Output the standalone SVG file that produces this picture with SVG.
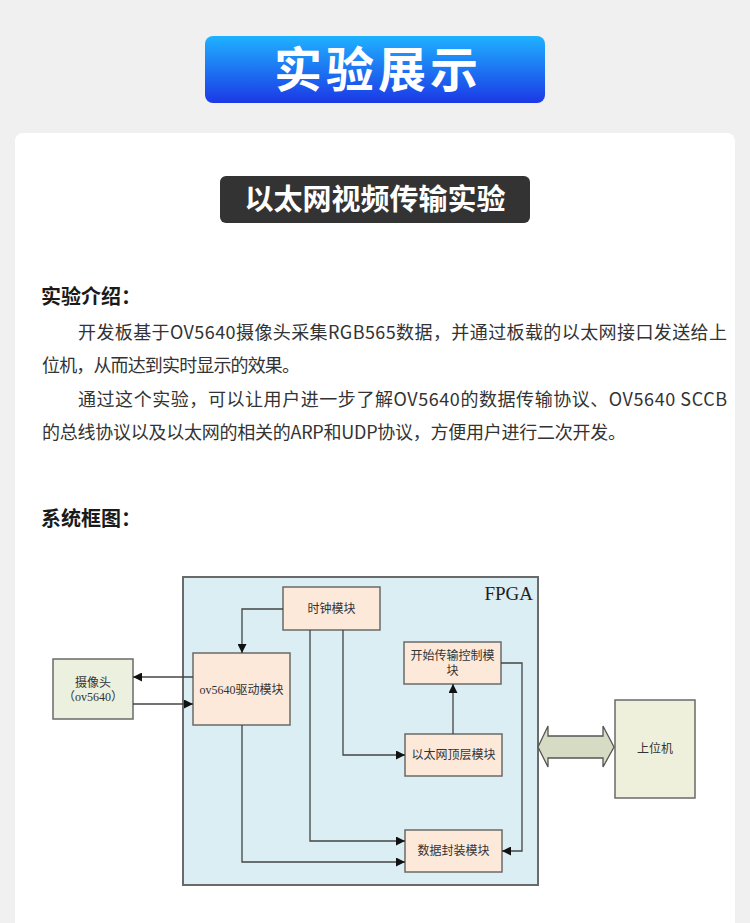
<svg xmlns="http://www.w3.org/2000/svg" width="750" height="923" viewBox="0 0 750 923">
<defs>
<linearGradient id="blue" x1="0" y1="0" x2="0" y2="1">
<stop offset="0" stop-color="#1fb2ff"/>
<stop offset="1" stop-color="#1b38e6"/>
</linearGradient>
<marker id="arr" viewBox="0 0 10 10" refX="10" refY="5" markerWidth="10" markerHeight="9" markerUnits="userSpaceOnUse" orient="auto">
<path d="M0,0 L10,5 L0,10 z" fill="#111"/>
</marker>
<style>
.cjk{font-family:"Noto Sans CJK SC","Noto Sans",sans-serif}
.head{font-family:"Noto Sans CJK SC",sans-serif;font-weight:bold;fill:#1a1a1a;font-size:20px}
.para{font-family:"Noto Sans CJK SC",sans-serif;fill:#333;font-size:18px}
.mod{fill:#fde9d9;stroke:#6a6a6a;stroke-width:1.5}
.ext{fill:#ebf1de;stroke:#6a6a6a;stroke-width:1.5}
.lbl{font-family:"Liberation Serif","Noto Sans CJK SC",serif;font-size:12px;fill:#333;text-anchor:middle}
.con{fill:none;stroke:#444;stroke-width:1.3}
</style>
</defs>
<rect x="0" y="0" width="750" height="923" fill="#f0f0f0"/>
<rect x="15" y="133" width="720" height="800" rx="8" fill="#ffffff"/>
<g id="title">
<rect x="205" y="36" width="340" height="67" rx="8" fill="url(#blue)"/>
<text x="378" y="87" class="cjk" font-size="48" font-weight="bold" fill="#ffffff" text-anchor="middle" letter-spacing="4">实验展示</text>
</g>
<g id="subtitle">
<rect x="220" y="176" width="310" height="47" rx="6" fill="#333333"/>
<text x="375" y="210" class="cjk" font-size="29" font-weight="bold" fill="#ffffff" text-anchor="middle">以太网视频传输实验</text>
</g>
<text x="41" y="304" class="head">实验介绍：</text>
<text x="78" y="339" class="para" textLength="649" lengthAdjust="spacing">开发板基于OV5640摄像头采集RGB565数据，并通过板载的以太网接口发送给上</text>
<text x="42" y="372" class="para" textLength="258" lengthAdjust="spacing">位机，从而达到实时显示的效果。</text>
<text x="78" y="406" class="para" textLength="649" lengthAdjust="spacing">通过这个实验，可以让用户进一步了解OV5640的数据传输协议、OV5640 SCCB</text>
<text x="42" y="439" class="para" textLength="584" lengthAdjust="spacing">的总线协议以及以太网的相关的ARP和UDP协议，方便用户进行二次开发。</text>
<text x="41" y="526" class="head">系统框图：</text>

<g id="fpga">
<rect x="184" y="579" width="355" height="307" fill="#8a8a8a"/>
<rect x="183" y="577" width="355" height="308" fill="#daeef3" stroke="#6a6a6a" stroke-width="2"/>
<text x="533" y="600" font-family="Liberation Serif,serif" font-size="19" fill="#222" text-anchor="end">FPGA</text>
</g>
<g id="clock">
<rect class="mod" x="283" y="587" width="97" height="43"/>
<text class="lbl" x="331.5" y="613">时钟模块</text>
</g>
<g id="ov5640drv">
<rect class="mod" x="193" y="653" width="97" height="72"/>
<text class="lbl" x="241.5" y="694">ov5640驱动模块</text>
</g>
<g id="camera">
<rect class="ext" x="53" y="659" width="80" height="60"/>
<text class="lbl" x="93" y="687">摄像头</text>
<text class="lbl" x="93" y="701">（ov5640）</text>
</g>
<g id="startctrl">
<rect class="mod" x="404" y="642" width="97" height="42"/>
<text class="lbl" x="452.5" y="660">开始传输控制模</text>
<text class="lbl" x="452.5" y="675">块</text>
</g>
<g id="ethtop">
<rect class="mod" x="405" y="734" width="97" height="42"/>
<text class="lbl" x="453.5" y="759">以太网顶层模块</text>
</g>
<g id="pack">
<rect class="mod" x="405" y="830" width="97" height="42"/>
<text class="lbl" x="453.5" y="855">数据封装模块</text>
</g>
<g id="host">
<rect x="615" y="700" width="80" height="98" fill="#eef0dc" stroke="#6a6a6a" stroke-width="1.5"/>
<text class="lbl" x="655" y="753">上位机</text>
</g>
<g id="connectors">
<path class="con" d="M193,677 H133" marker-end="url(#arr)"/>
<path class="con" d="M133,704 H193" marker-end="url(#arr)"/>
<path class="con" d="M283,609 H242 V653" marker-end="url(#arr)"/>
<path class="con" d="M310,630 V841 H405" marker-end="url(#arr)"/>
<path class="con" d="M343,630 V755 H405" marker-end="url(#arr)"/>
<path class="con" d="M242,725 V862 H405" marker-end="url(#arr)"/>
<path class="con" d="M453,734 V684" marker-end="url(#arr)"/>
<path class="con" d="M501,663 H522 V851 H502" marker-end="url(#arr)"/>
<path d="M538,747 L548,726 L548,736 L603,736 L603,726 L614,747 L603,767 L603,758 L548,758 L548,767 Z" fill="#d6dbc4" stroke="#555" stroke-width="1.3"/>
</g>
</svg>
